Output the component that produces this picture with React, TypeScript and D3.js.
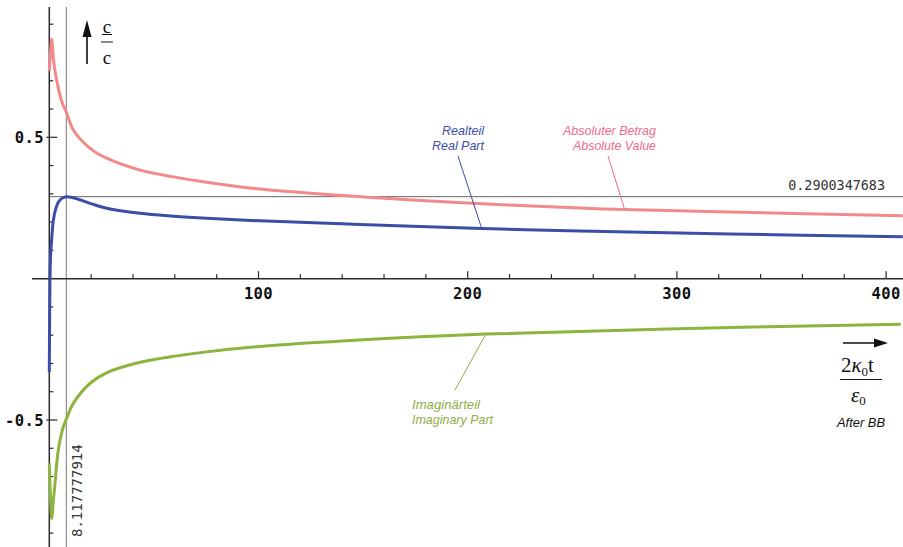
import React from 'react';
import * as d3 from 'd3';

// Absolute value |c/c|
const absT = [0, 0.6, 1.15, 2, 3.5, 6, 8.1, 11.5, 19.5, 27.4, 43.4, 59.3, 75.2, 100.7, 148.5, 202, 253.7, 275, 325, 408];
const absV = [0.735, 0.8, 0.847, 0.775, 0.703, 0.626, 0.59, 0.526, 0.461, 0.426, 0.384, 0.36, 0.341, 0.317, 0.29, 0.2665, 0.2495, 0.2446, 0.2355, 0.2227];

// Real part
const reT = [0, 0.15, 0.33, 0.67, 1.15, 1.9, 3.0, 4.3, 6, 8.12, 11.5, 19.5, 27.4, 43.4, 59.3, 75.2, 100.7, 148.5, 206.7, 253.7, 325.4, 408];
const reV = [-0.33, -0.15, 0.0, 0.09, 0.14, 0.205, 0.245, 0.27, 0.284, 0.29, 0.286, 0.2665, 0.249, 0.231, 0.221, 0.2135, 0.2045, 0.1915, 0.1775, 0.1685, 0.158, 0.148];

// Imaginary part
const imT = [0, 0.6, 1.15, 2, 2.72, 4.3, 6.7, 8.3, 11.5, 19.5, 27.4, 43.4, 59.3, 75.2, 100.7, 150, 208.7, 295.5, 407];
const imV = [-0.653, -0.78, -0.848, -0.78, -0.724, -0.606, -0.524, -0.494, -0.441, -0.37, -0.333, -0.296, -0.275, -0.259, -0.24, -0.2165, -0.196, -0.178, -0.161];

const xMajor = [100, 200, 300, 400];
const yMajor = [-0.5, 0.5];
const yMajorLabels = ['-0.5', '0.5'];
const peakT = 8.117777914;
const peakV = 0.2900347683;

export default function App() {
  const W = 903, H = 547;
  const x = d3.scaleLinear().domain([0, 400]).range([49.3, 886.1]);
  const y = d3.scaleLinear().domain([-0.5, 0.5]).range([420, 137.3]);
  const line = d3.line<[number, number]>().x(d => x(d[0])).y(d => y(d[1])).curve(d3.curveCatmullRom.alpha(0.5));
  const zip = (a: number[], b: number[]) => a.map((t, i) => [t, b[i]] as [number, number]);

  const xMinor = d3.range(20, 401, 20).filter(v => v % 100 !== 0);
  const yMinor = d3.range(-9, 10).map(v => v / 10).filter(v => Math.abs(v) > 1e-9 && Math.abs(Math.abs(v) - 0.5) > 1e-9);

  const x0 = x(0), y0 = y(0);
  const axis = '#2a2a2a';
  const pink = '#F28A8A', blue = '#3B4EA6', green = '#8CB43E';
  const pinkTxt = '#EE6A8E', blueTxt = '#3C4DA6', greenTxt = '#8DAE48';
  const mono = '"DejaVu Sans Mono", monospace';
  const sans = '"Liberation Sans", Arial, sans-serif';
  const serif = '"Liberation Serif", "Times New Roman", serif';

  const reAt = (t: number) => {
    const i = reT.findIndex(v => v >= t);
    return reV[i];
  };

  return (
    <svg width={W} height={H} style={{ position: 'absolute', left: 0, top: 0, background: '#fff' }}>
      <rect width={W} height={H} fill="#fff" />
      {/* reference lines */}
      <line x1={x(peakT)} x2={x(peakT)} y1={7} y2={H} stroke="#777" strokeWidth={1} />
      <line x1={x0} x2={W} y1={y(peakV)} y2={y(peakV)} stroke="#666" strokeWidth={1} />

      {/* axes */}
      <line x1={32} x2={W} y1={y0} y2={y0} stroke={axis} strokeWidth={1.5} />
      <line x1={x0} x2={x0} y1={7} y2={H} stroke={axis} strokeWidth={1.5} />
      {xMinor.map(v => (
        <line key={'xm' + v} x1={x(v)} x2={x(v)} y1={y0} y2={y0 - 4.5} stroke={axis} strokeWidth={1.2} />
      ))}
      {xMajor.map(v => (
        <g key={'xM' + v}>
          <line x1={x(v)} x2={x(v)} y1={y0} y2={y0 - 7.5} stroke={axis} strokeWidth={1.2} />
          <text x={x(v)} y={299} textAnchor="middle" fontFamily={mono} fontWeight="bold" fontSize={15.5} letterSpacing={0.4} fill="#111">{v}</text>
        </g>
      ))}
      {yMinor.map(v => (
        <line key={'ym' + v} x1={x0} x2={x0 + 4} y1={y(v)} y2={y(v)} stroke={axis} strokeWidth={1.2} />
      ))}
      {yMajor.map((v, i) => (
        <g key={'yM' + v}>
          <line x1={x0 - 3} x2={x0 + 8} y1={y(v)} y2={y(v)} stroke={axis} strokeWidth={1.2} />
          <text x={44} y={y(v)} dy="0.36em" textAnchor="end" fontFamily={mono} fontWeight="bold" fontSize={15.5} letterSpacing={0.4} fill="#111">{yMajorLabels[i]}</text>
        </g>
      ))}

      {/* curves */}
      <path d={line(zip(absT, absV)) || ''} fill="none" stroke={pink} strokeWidth={3} />
      <path d={line(zip(imT, imV)) || ''} fill="none" stroke={green} strokeWidth={3} />
      <path d={line(zip(reT, reV)) || ''} fill="none" stroke={blue} strokeWidth={3} />

      {/* value labels */}
      <text x={885} y={189.5} textAnchor="end" fontFamily={mono} fontSize={13.4} fill="#333">{String(peakV)}</text>
      <text transform={`translate(81.5,537) rotate(-90)`} fontFamily={mono} fontSize={14} fill="#333">{String(peakT).slice(0, 11)}</text>

      {/* annotations */}
      <line x1={458} y1={156} x2={x(206.7)} y2={y(reAt(206.7))} stroke={blueTxt} strokeWidth={1} />
      <text x={484} y={135} textAnchor="end" fontFamily={sans} fontStyle="italic" fontSize={13.5} fill={blueTxt} textLength={42} lengthAdjust="spacingAndGlyphs">Realteil</text>
      <text x={484} y={150} textAnchor="end" fontFamily={sans} fontStyle="italic" fontSize={13.5} fill={blueTxt} textLength={52} lengthAdjust="spacingAndGlyphs">Real Part</text>

      <line x1={608} y1={156} x2={x(275)} y2={y(0.2446)} stroke={pinkTxt} strokeWidth={1} />
      <text x={656} y={135} textAnchor="end" fontFamily={sans} fontStyle="italic" fontSize={13.5} fill={pinkTxt} textLength={93} lengthAdjust="spacingAndGlyphs">Absoluter Betrag</text>
      <text x={656} y={150} textAnchor="end" fontFamily={sans} fontStyle="italic" fontSize={13.5} fill={pinkTxt} textLength={83} lengthAdjust="spacingAndGlyphs">Absolute Value</text>

      <line x1={455} y1={390} x2={x(208.7)} y2={y(-0.196)} stroke={greenTxt} strokeWidth={1} />
      <text x={412} y={409} fontFamily={sans} fontStyle="italic" fontSize={13.5} fill={greenTxt} textLength={68} lengthAdjust="spacingAndGlyphs">Imaginärteil</text>
      <text x={412} y={423.5} fontFamily={sans} fontStyle="italic" fontSize={13.5} fill={greenTxt} textLength={81} lengthAdjust="spacingAndGlyphs">Imaginary Part</text>

      {/* y axis label */}
      <line x1={87} x2={87} y1={64} y2={34} stroke="#111" strokeWidth={1.6} />
      <path d="M87,20 L82.5,37 L91.5,37 Z" fill="#111" />
      <text x={107} y={33} textAnchor="middle" fontFamily={serif} fontSize={19} fill="#111">c</text>
      <line x1={102} x2={112} y1={34.5} y2={34.5} stroke="#111" strokeWidth={1} />
      <line x1={101} x2={113} y1={42} y2={42} stroke="#111" strokeWidth={1} />
      <text x={107} y={64} textAnchor="middle" fontFamily={serif} fontSize={19} fill="#111">c</text>

      {/* x axis label */}
      <line x1={843} x2={876} y1={343} y2={343} stroke="#111" strokeWidth={1.6} />
      <path d="M888,343 L874,338.5 L874,347.5 Z" fill="#111" />
      <text x={841} y={371.5} fontFamily={serif} fontSize={21} fill="#111">2<tspan fontStyle="italic">κ</tspan><tspan fontSize={13} dy={4}>0</tspan><tspan dy={-4}>t</tspan></text>
      <line x1={840} x2={882} y1={379.5} y2={379.5} stroke="#111" strokeWidth={1} />
      <text x={851} y={402} fontFamily={serif} fontStyle="italic" fontSize={21} fill="#111">ε<tspan fontStyle="normal" fontSize={13} dy={3}>0</tspan></text>
      <text x={837} y={427} fontFamily={sans} fontStyle="italic" fontSize={12} fill="#111" textLength={48} lengthAdjust="spacingAndGlyphs">After BB</text>
    </svg>
  );
}
